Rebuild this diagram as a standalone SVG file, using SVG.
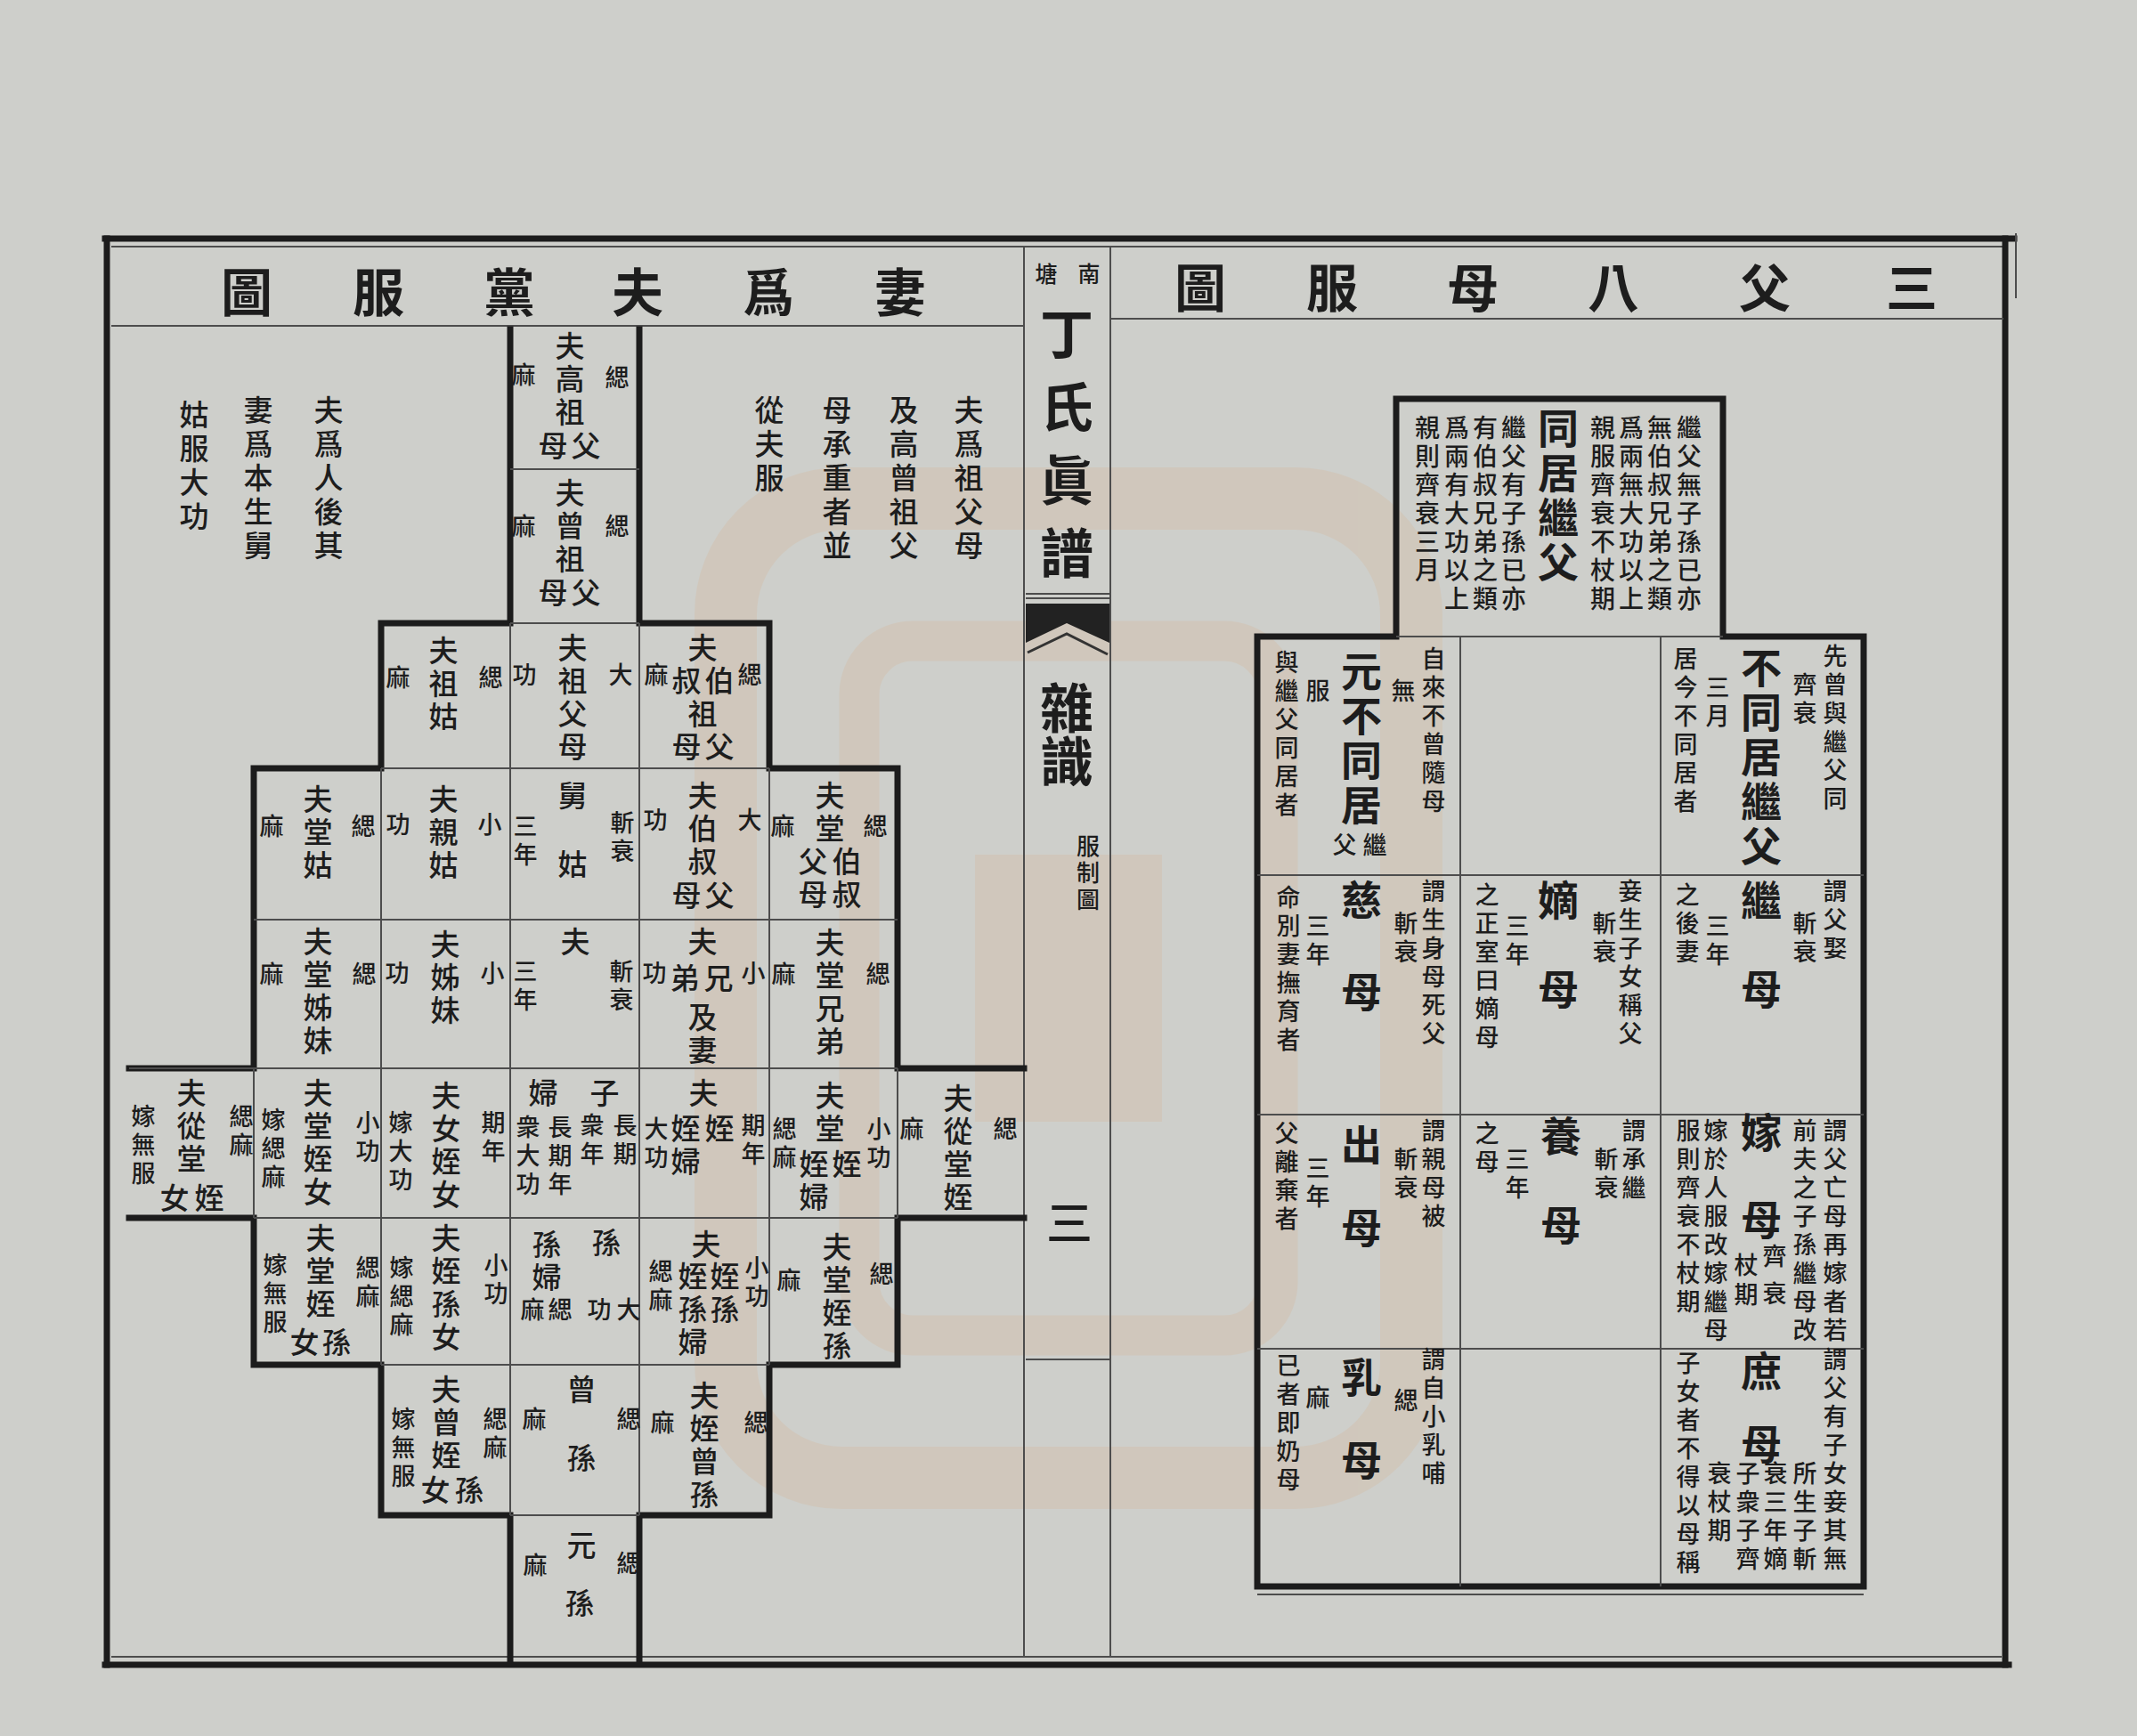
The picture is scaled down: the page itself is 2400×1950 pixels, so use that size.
<svg xmlns="http://www.w3.org/2000/svg" width="2400" height="1950" viewBox="0 0 2400 1950">
<style>
text{font-family:"Noto Sans CJK TC","Noto Sans CJK SC",sans-serif;fill:#1d1d1d;font-weight:500}
.v{writing-mode:vertical-rl}
.h{text-anchor:middle;dominant-baseline:central}
.t{font-size:58px;font-weight:700}
.m{font-size:33px;letter-spacing:4px}
.g{font-size:27px;letter-spacing:5px}
.n{font-size:33px;letter-spacing:5px}
.L{font-size:46px;letter-spacing:4px;font-weight:700}
.s{font-size:27px;letter-spacing:5px}
.u{font-size:28px;letter-spacing:4px}
.k{stroke:#1c1c1c;stroke-width:7;fill:none;stroke-linecap:square}
.f{stroke:#4d4d4d;stroke-width:2;fill:none}
</style>
<rect width="2400" height="1950" fill="#cecfcb"/>
<g id="seal" opacity="0.13" fill="none" stroke="#e39a5c">
<rect x="815" y="560" width="770" height="1100" rx="130" stroke-width="70"/>
<rect x="965" y="720" width="470" height="780" rx="60" stroke-width="45"/>
<rect x="1095" y="960" width="210" height="300" fill="#e39a5c" stroke="none"/>
</g>
<g id="frame">
<line class="k" x1="118" y1="268" x2="2262" y2="268"/>
<line class="f" x1="125" y1="277" x2="2250" y2="277"/>
<line class="k" x1="120" y1="268" x2="120" y2="1870"/>
<line class="k" x1="2252" y1="268" x2="2252" y2="1870"/>
<line class="f" x1="2264" y1="262" x2="2264" y2="335"/>
<line class="k" x1="118" y1="1870" x2="2256" y2="1870"/>
<line class="f" x1="125" y1="1861" x2="2248" y2="1861"/>
<line class="f" x1="125" y1="366" x2="1150" y2="366"/>
<line class="f" x1="1247" y1="358" x2="2250" y2="358"/>
<line class="f" x1="1150" y1="277" x2="1150" y2="1861"/>
<line class="f" x1="1247" y1="277" x2="1247" y2="1861"/>
</g>
<g id="title-left">
<text class="t h" x="1011" y="325">妻</text>
<text class="t h" x="863" y="325">爲</text>
<text class="t h" x="716" y="325">夫</text>
<text class="t h" x="572" y="325">黨</text>
<text class="t h" x="425" y="325">服</text>
<text class="t h" x="277" y="325">圖</text>
</g>
<g id="title-right">
<text class="t h" x="2147" y="320">三</text>
<text class="t h" x="1982" y="320">父</text>
<text class="t h" x="1812" y="320">八</text>
<text class="t h" x="1654" y="320">母</text>
<text class="t h" x="1496" y="320">服</text>
<text class="t h" x="1348" y="320">圖</text>
</g>
<g id="center">
<text class="h" style="font-size:25px" x="1223" y="306">南</text>
<text class="h" style="font-size:25px" x="1175" y="306">塘</text>
<text class="v" style="font-size:60px;letter-spacing:22px;font-weight:700" x="1198" y="345">丁氏眞譜</text>
<line class="f" x1="1152" y1="667" x2="1246" y2="667"/>
<line class="f" x1="1152" y1="672" x2="1246" y2="672"/>
<polygon points="1152,678 1246,678 1246,722 1198,700 1152,722" fill="#222"/>
<polyline points="1154,733 1198,712 1244,735" fill="none" stroke="#333" stroke-width="3"/>
<text class="v" style="font-size:60px;font-weight:700" x="1198" y="765">雜識</text>
<text class="v" style="font-size:26px;letter-spacing:4px" x="1222" y="937">服制圖</text>
<text class="h" style="font-size:52px" x="1201" y="1370">三</text>
<line class="f" x1="1152" y1="1527" x2="1246" y2="1527"/>
</g>
<g id="notes-left">
<text class="v n" x="369" y="444">夫爲人後其</text>
<text class="v n" x="290" y="444">妻爲本生舅</text>
<text class="v n" x="218" y="449">姑服大功</text>
<text class="v n" x="1088" y="444">夫爲祖父母</text>
<text class="v n" x="1015" y="444">及高曾祖父</text>
<text class="v n" x="940" y="444">母承重者並</text>
<text class="v n" x="864" y="444">從夫服</text>
</g>
<g id="left-grid-lines">
<path class="k" d="M573 370V700H428V863H285V1200H145M145 1368H285V1533H428V1702H573V1868"/>
<path class="k" d="M718 370V700H864V863H1008V1200H1150M1150 1368H1008V1533H864V1702H718V1868"/>
<path class="f" d="M573 527H718M573 700H718M428 863H864M285 1033H1008M285 1200H1008M145 1200H285M285 1368H1008M428 1533H864M573 1702H718M428 863V1533M573 700V1702M718 700V1702M864 863V1533M285 1200V1368M1008 1200V1368"/>
</g>
<g id="cell-gaozu">
<text class="v m" x="640" y="372">夫高祖</text><text class="v m" x="658" y="484">父</text><text class="v m" x="621" y="484">母</text>
<text class="v g" x="693" y="410">緦</text><text class="v g" x="588" y="407">麻</text>
</g>
<g id="cell-zengzu">
<text class="v m" x="640" y="537">夫曾祖</text><text class="v m" x="658" y="649">父</text><text class="v m" x="621" y="649">母</text>
<text class="v g" x="693" y="577">緦</text><text class="v g" x="588" y="577">麻</text>
</g>
<g id="cell-zugu">
<text class="v m" x="498" y="714">夫祖姑</text><text class="v g" x="447" y="747">麻</text><text class="v g" x="551" y="747">緦</text>
</g>
<g id="cell-zufumu">
<text class="v m" x="643" y="711">夫祖父母</text><text class="v g" x="589" y="744">功</text><text class="v g" x="697" y="744">大</text>
</g>
<g id="cell-boshuzu">
<text class="v m" x="789" y="711">夫</text><text class="v m" x="808" y="748">伯</text><text class="v m" x="771" y="748">叔</text><text class="v m" x="789" y="785">祖</text><text class="v m" x="808" y="822">父</text><text class="v m" x="771" y="822">母</text>
<text class="v g" x="842" y="744">緦</text><text class="v g" x="737" y="744">麻</text>
</g>
<g id="cell-tanggu">
<text class="v m" x="357" y="881">夫堂姑</text><text class="v g" x="305" y="914">麻</text><text class="v g" x="408" y="914">緦</text>
</g>
<g id="cell-qingu">
<text class="v m" x="498" y="881">夫親姑</text><text class="v g" x="447" y="912">功</text><text class="v g" x="550" y="912">小</text>
</g>
<g id="cell-jiugu">
<text class="v m" x="643" y="877">舅</text><text class="v m" x="643" y="954">姑</text><text class="v g" x="590" y="914">三年</text><text class="v g" x="699" y="910">斬衰</text>
</g>
<g id="cell-boshufumu">
<text class="v m" x="789" y="877">夫伯叔</text><text class="v m" x="808" y="989">父</text><text class="v m" x="771" y="989">母</text>
<text class="v g" x="736" y="907">功</text><text class="v g" x="842" y="907">大</text>
</g>
<g id="cell-tangboshu">
<text class="v m" x="932" y="877">夫堂</text><text class="v m" x="951" y="951">伯叔</text><text class="v m" x="913" y="951">父母</text>
<text class="v g" x="879" y="914">麻</text><text class="v g" x="983" y="914">緦</text>
</g>
<g id="cell-tangzimei">
<text class="v m" x="357" y="1041">夫堂姊妹</text><text class="v g" x="305" y="1080">麻</text><text class="v g" x="409" y="1080">緦</text>
</g>
<g id="cell-zimei">
<text class="v m" x="500" y="1044">夫姊妹</text><text class="v g" x="446" y="1079">功</text><text class="v g" x="553" y="1079">小</text>
</g>
<g id="cell-fu">
<text class="v m" x="646" y="1041">夫</text><text class="v g" x="590" y="1077">三年</text><text class="v g" x="698" y="1077">斬衰</text>
</g>
<g id="cell-xiongdi">
<text class="v m" x="789" y="1041">夫</text><text class="v m" x="807" y="1082">兄</text><text class="v m" x="769" y="1082">弟</text><text class="v m" x="789" y="1126">及妻</text>
<text class="v g" x="735" y="1079">功</text><text class="v g" x="846" y="1079">小</text>
</g>
<g id="cell-tangxiongdi">
<text class="v m" x="932" y="1042">夫堂兄弟</text><text class="v g" x="880" y="1080">麻</text><text class="v g" x="986" y="1080">緦</text>
</g>
<g id="cell-congtangzhinv">
<text class="v m" x="215" y="1211">夫從堂</text><text class="v m" x="235" y="1329">姪</text><text class="v m" x="196" y="1329">女</text>
<text class="v g" x="161" y="1240">嫁無服</text><text class="v g" x="271" y="1240">緦麻</text>
</g>
<g id="cell-tangzhinv">
<text class="v m" x="357" y="1211">夫堂姪女</text><text class="v g" x="307" y="1244">嫁緦麻</text><text class="v g" x="413" y="1247">小功</text>
</g>
<g id="cell-nvzhinv">
<text class="v m" x="501" y="1214">夫女姪女</text><text class="v g" x="450" y="1247">嫁大功</text><text class="v g" x="554" y="1247">期年</text>
</g>
<g id="cell-zifu">
<text class="v m" x="610" y="1211">婦</text><text class="v g" x="629" y="1252">長期年</text><text class="v g" x="593" y="1252">衆大功</text>
<text class="v m" x="679" y="1211">子</text><text class="v g" x="702" y="1250">長期</text><text class="v g" x="665" y="1250">衆年</text>
</g>
<g id="cell-zhi">
<text class="v m" x="790" y="1211">夫</text><text class="v m" x="808" y="1251">姪</text><text class="v m" x="770" y="1251">姪婦</text>
<text class="v g" x="737" y="1254">大功</text><text class="v g" x="846" y="1250">期年</text>
</g>
<g id="cell-tangzhi">
<text class="v m" x="932" y="1214">夫堂</text><text class="v m" x="951" y="1291">姪</text><text class="v m" x="914" y="1291">姪婦</text>
<text class="v g" x="881" y="1254">緦麻</text><text class="v g" x="987" y="1254">小功</text>
</g>
<g id="cell-congtangzhi">
<text class="v m" x="1076" y="1217">夫從堂姪</text><text class="v g" x="1024" y="1254">麻</text><text class="v g" x="1129" y="1254">緦</text>
</g>
<g id="cell-tangzhisunnv">
<text class="v m" x="360" y="1374">夫堂姪</text><text class="v m" x="378" y="1491">孫</text><text class="v m" x="342" y="1491">女</text>
<text class="v g" x="309" y="1407">嫁無服</text><text class="v g" x="413" y="1410">緦麻</text>
</g>
<g id="cell-zhisunnv">
<text class="v m" x="501" y="1374">夫姪孫女</text><text class="v g" x="451" y="1410">嫁緦麻</text><text class="v g" x="557" y="1407">小功</text>
</g>
<g id="cell-sun">
<text class="v m" x="614" y="1381">孫婦</text><text class="v g" x="629" y="1457">緦</text><text class="v g" x="598" y="1457">麻</text>
<text class="v m" x="681" y="1379">孫</text><text class="v g" x="706" y="1457">大</text><text class="v g" x="673" y="1457">功</text>
</g>
<g id="cell-zhisun">
<text class="v m" x="793" y="1381">夫</text><text class="v m" x="814" y="1417">姪孫</text><text class="v m" x="778" y="1417">姪孫婦</text>
<text class="v g" x="742" y="1414">緦麻</text><text class="v g" x="850" y="1410">小功</text>
</g>
<g id="cell-tangzhisun">
<text class="v m" x="940" y="1384">夫堂姪孫</text><text class="v g" x="886" y="1424">麻</text><text class="v g" x="990" y="1417">緦</text>
</g>
<g id="cell-zengzhisunnv">
<text class="v m" x="501" y="1544">夫曾姪</text><text class="v m" x="527" y="1657">孫</text><text class="v m" x="489" y="1657">女</text>
<text class="v g" x="453" y="1580">嫁無服</text><text class="v g" x="556" y="1580">緦麻</text>
</g>
<g id="cell-zengsun">
<text class="v m" x="653" y="1544">曾</text><text class="v m" x="653" y="1621">孫</text><text class="v g" x="600" y="1580">麻</text><text class="v g" x="706" y="1580">緦</text>
</g>
<g id="cell-zhizengsun">
<text class="v m" x="791" y="1551">夫姪曾孫</text><text class="v g" x="744" y="1584">麻</text><text class="v g" x="849" y="1584">緦</text>
</g>
<g id="cell-yuansun">
<text class="v m" x="653" y="1719">元</text><text class="v m" x="651" y="1784">孫</text><text class="v g" x="601" y="1744">麻</text><text class="v g" x="706" y="1742">緦</text>
</g>
<g id="right-grid-lines">
<path class="k" d="M1568 715V448H1935V715M1568 715H1412V1782H2093V715H1935"/>
<path class="f" d="M1568 715H1935M1640 715V1782M1865 715V1782M1412 983H2093M1412 1252H2093M1412 1515H2093M1412 1791H2093"/>
</g>
<g id="box-tongju">
<text class="v L" x="1750" y="458">同居繼父</text>
<text class="v u" x="1897" y="466">繼父無子孫已亦</text>
<text class="v u" x="1864" y="466">無伯叔兄弟之類</text>
<text class="v u" x="1832" y="466">爲兩無大功以上</text>
<text class="v u" x="1800" y="466">親服齊衰不杖期</text>
<text class="v u" x="1700" y="466">繼父有子孫已亦</text>
<text class="v u" x="1668" y="466">有伯叔兄弟之類</text>
<text class="v u" x="1636" y="466">爲兩有大功以上</text>
<text class="v u" x="1603" y="466">親則齊衰三月</text>
</g>
<g id="box-butongju">
<text class="v L" x="1978" y="727">不同居繼父</text>
<text class="v s" x="2061" y="723">先曾與繼父同</text>
<text class="v s" x="2027" y="755">齊衰</text>
<text class="v s" x="1929" y="758">三月</text>
<text class="v s" x="1893" y="726">居今不同居者</text>
</g>
<g id="box-yuanbutongju">
<text class="v L" x="1529" y="731">元不同居</text>
<text class="v s" x="1544" y="935">繼</text><text class="v s" x="1510" y="935">父</text>
<text class="v s" x="1610" y="726">自來不曾隨母</text>
<text class="v s" x="1576" y="762">無</text>
<text class="v s" x="1480" y="762">服</text>
<text class="v s" x="1445" y="730">與繼父同居者</text>
</g>
<g id="box-jimu">
<text class="v L" x="1978" y="988">繼</text><text class="v L" x="1978" y="1088">母</text>
<text class="v s" x="2061" y="987">謂父娶</text>
<text class="v s" x="2027" y="1023">斬衰</text>
<text class="v s" x="1929" y="1026">三年</text>
<text class="v s" x="1895" y="991">之後妻</text>
</g>
<g id="box-dimu">
<text class="v L" x="1750" y="988">嫡</text><text class="v L" x="1750" y="1088">母</text>
<text class="v s" x="1831" y="987">妾生子女稱父</text>
<text class="v s" x="1802" y="1023">斬衰</text>
<text class="v s" x="1704" y="1026">三年</text>
<text class="v s" x="1670" y="991">之正室曰嫡母</text>
</g>
<g id="box-cimu">
<text class="v L" x="1529" y="988">慈</text><text class="v L" x="1529" y="1091">母</text>
<text class="v s" x="1610" y="987">謂生身母死父</text>
<text class="v s" x="1579" y="1023">斬衰</text>
<text class="v s" x="1480" y="1026">三年</text>
<text class="v s" x="1447" y="994">命別妻撫育者</text>
</g>
<g id="box-jiamu">
<text class="v L" x="1978" y="1249">嫁</text><text class="v L" x="1978" y="1347">母</text>
<text class="v s" x="1993" y="1397">齊</text><text class="v s" x="1993" y="1439">衰</text>
<text class="v s" x="1961" y="1407">杖</text><text class="v s" x="1961" y="1440">期</text>
<text class="v s" x="2061" y="1256">謂父亡母再嫁者若</text>
<text class="v s" x="2027" y="1256">前夫之子孫繼母改</text>
<text class="v s" x="1927" y="1256">嫁於人服改嫁繼母</text>
<text class="v s" x="1896" y="1256">服則齊衰不杖期</text>
</g>
<g id="box-yangmu">
<text class="v L" x="1753" y="1253">養</text><text class="v L" x="1753" y="1353">母</text>
<text class="v s" x="1835" y="1256">謂承繼</text>
<text class="v s" x="1804" y="1288">斬衰</text>
<text class="v s" x="1704" y="1288">三年</text>
<text class="v s" x="1670" y="1259">之母</text>
</g>
<g id="box-chumu">
<text class="v L" x="1529" y="1263">出</text><text class="v L" x="1529" y="1356">母</text>
<text class="v s" x="1610" y="1256">謂親母被</text>
<text class="v s" x="1579" y="1288">斬衰</text>
<text class="v s" x="1480" y="1298">三年</text>
<text class="v s" x="1445" y="1259">父離棄者</text>
</g>
<g id="box-shumu">
<text class="v L" x="1978" y="1517">庶</text><text class="v L" x="1978" y="1599">母</text>
<text class="v s" x="2061" y="1513">謂父有子女妾其無</text>
<text class="v s" x="2027" y="1641">所生子斬</text>
<text class="v s" x="1994" y="1641">衰三年嫡</text>
<text class="v s" x="1963" y="1641">子衆子齊</text>
<text class="v s" x="1931" y="1641">衰杖期</text>
<text class="v s" x="1896" y="1517">子女者不得以母稱</text>
</g>
<g id="box-rumu">
<text class="v L" x="1529" y="1524">乳</text><text class="v L" x="1529" y="1617">母</text>
<text class="v s" x="1610" y="1513">謂自小乳哺</text>
<text class="v s" x="1579" y="1559">緦</text>
<text class="v s" x="1480" y="1556">麻</text>
<text class="v s" x="1447" y="1520">已者即奶母</text>
</g>
</svg>
